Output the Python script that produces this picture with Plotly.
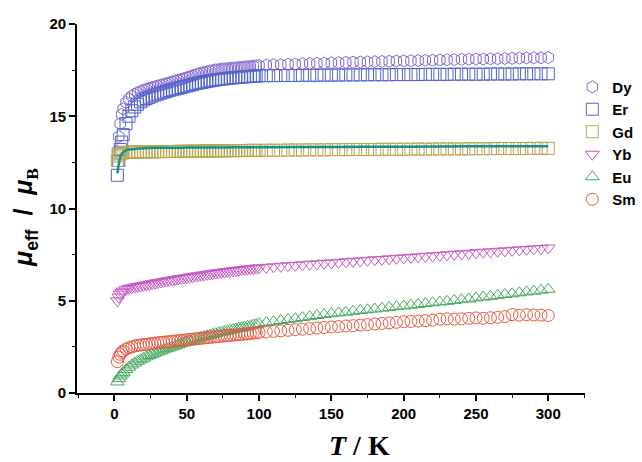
import plotly.graph_objects as go

# Temperature (K)
T = [2, 3, 4, 5, 6,
     8, 10, 12, 14, 16, 18, 20, 22, 24, 26,
     28, 30, 32, 34, 36, 38, 40, 42, 44, 46,
     48, 50, 52, 54, 56, 58, 60, 62, 64, 66,
     68, 70, 72, 74, 76, 78, 80, 82, 84, 86,
     88, 90, 92, 94, 96, 98, 100,
     105, 110, 115, 120, 125, 130, 135, 140, 145, 150,
     155, 160, 165, 170, 175, 180, 185, 190, 195, 200,
     205, 210, 215, 220, 225, 230, 235, 240, 245, 250,
     255, 260, 265, 270, 275, 280, 285, 290, 295, 300]

Dy = [13.1, 13.9, 14.6, 15.1, 15.4,
      15.75, 15.95, 16.1, 16.2, 16.28, 16.35, 16.42, 16.47, 16.52, 16.56,
      16.6, 16.65, 16.69, 16.73, 16.78, 16.82, 16.87, 16.91, 16.96, 17.0,
      17.05, 17.1, 17.15, 17.2, 17.25, 17.3, 17.35, 17.38, 17.42, 17.45,
      17.49, 17.52, 17.54, 17.56, 17.58, 17.59, 17.6, 17.62, 17.63, 17.65,
      17.66, 17.68, 17.7, 17.71, 17.72, 17.74, 17.75,
      17.77, 17.79, 17.8, 17.82, 17.83, 17.85, 17.86, 17.87, 17.88, 17.9,
      17.91, 17.92, 17.93, 17.94, 17.95, 17.96, 17.97, 17.98, 17.99, 18.0,
      18.01, 18.02, 18.03, 18.04, 18.05, 18.06, 18.07, 18.08, 18.09, 18.1,
      18.1, 18.11, 18.12, 18.13, 18.14, 18.15, 18.16, 18.17, 18.17, 18.18]

Er = [11.8, 12.6, 13.2, 13.6, 14.0,
      14.6, 15.0, 15.3, 15.5, 15.65, 15.78, 15.88, 15.96, 16.03, 16.09,
      16.15, 16.2, 16.25, 16.3, 16.35, 16.4, 16.44, 16.48, 16.52, 16.56,
      16.6, 16.64, 16.68, 16.72, 16.76, 16.8, 16.83, 16.86, 16.89, 16.92,
      16.95, 16.97, 16.99, 17.01, 17.03, 17.05, 17.07, 17.08, 17.1, 17.11,
      17.12, 17.14, 17.15, 17.16, 17.17, 17.18, 17.19,
      17.2, 17.2, 17.21, 17.21, 17.21, 17.22, 17.22, 17.22, 17.23, 17.23,
      17.23, 17.24, 17.24, 17.24, 17.25, 17.25, 17.25, 17.25, 17.26, 17.26,
      17.26, 17.26, 17.27, 17.27, 17.27, 17.27, 17.28, 17.28, 17.28, 17.28,
      17.28, 17.29, 17.29, 17.29, 17.29, 17.3, 17.3, 17.3, 17.3, 17.3]

Gd = [12.6, 12.85, 12.95, 13.0, 13.02,
      13.04, 13.05, 13.05, 13.06, 13.06, 13.06, 13.07, 13.07, 13.07, 13.07,
      13.08, 13.08, 13.08, 13.08, 13.09, 13.09, 13.09, 13.09, 13.1, 13.1,
      13.1, 13.1, 13.1, 13.11, 13.11, 13.11, 13.11, 13.12, 13.12, 13.12,
      13.12, 13.12, 13.13, 13.13, 13.13, 13.13, 13.13, 13.14, 13.14, 13.14,
      13.14, 13.14, 13.15, 13.15, 13.15, 13.15, 13.15,
      13.16, 13.16, 13.16, 13.17, 13.17, 13.17, 13.18, 13.18, 13.18, 13.19,
      13.19, 13.19, 13.2, 13.2, 13.2, 13.2, 13.21, 13.21, 13.21, 13.21,
      13.22, 13.22, 13.22, 13.22, 13.23, 13.23, 13.23, 13.23, 13.24, 13.24,
      13.24, 13.24, 13.25, 13.25, 13.25, 13.25, 13.25, 13.26, 13.26, 13.26]

Yb = [5.0, 5.2, 5.35, 5.45, 5.52,
      5.6, 5.66, 5.7, 5.74, 5.77, 5.8, 5.83, 5.86, 5.89, 5.92,
      5.95, 5.98, 6.01, 6.04, 6.07, 6.1, 6.12, 6.15, 6.18, 6.2,
      6.23, 6.25, 6.28, 6.3, 6.33, 6.35, 6.38, 6.4, 6.43, 6.45,
      6.48, 6.5, 6.52, 6.54, 6.56, 6.58, 6.6, 6.62, 6.64, 6.66,
      6.68, 6.7, 6.72, 6.73, 6.75, 6.77, 6.78,
      6.81, 6.84, 6.87, 6.9, 6.92, 6.95, 6.98, 7.0, 7.03, 7.05,
      7.08, 7.11, 7.14, 7.16, 7.19, 7.22, 7.24, 7.27, 7.3, 7.32,
      7.35, 7.38, 7.41, 7.43, 7.46, 7.49, 7.52, 7.54, 7.57, 7.6,
      7.63, 7.65, 7.68, 7.7, 7.73, 7.76, 7.78, 7.81, 7.83, 7.86]

Eu = [0.6, 0.78, 0.92, 1.03, 1.12,
      1.27, 1.4, 1.52, 1.62, 1.72, 1.8, 1.88, 1.96, 2.03, 2.1,
      2.16, 2.22, 2.28, 2.34, 2.4, 2.45, 2.5, 2.56, 2.61, 2.67,
      2.72, 2.77, 2.82, 2.87, 2.92, 2.97, 3.02, 3.06, 3.1, 3.14,
      3.18, 3.22, 3.26, 3.3, 3.33, 3.37, 3.4, 3.44, 3.47, 3.51,
      3.54, 3.57, 3.61, 3.64, 3.68, 3.71, 3.75,
      3.82, 3.87, 3.93, 3.98, 4.03, 4.09, 4.14, 4.2, 4.25, 4.3,
      4.34, 4.38, 4.43, 4.47, 4.51, 4.55, 4.6, 4.64, 4.68, 4.72,
      4.76, 4.8, 4.85, 4.89, 4.93, 4.97, 5.02, 5.06, 5.1, 5.15,
      5.2, 5.24, 5.29, 5.34, 5.38, 5.43, 5.48, 5.52, 5.57, 5.62]

Sm = [1.7, 1.95, 2.1, 2.2, 2.28,
      2.38, 2.45, 2.5, 2.55, 2.58, 2.6, 2.62, 2.64, 2.66, 2.68,
      2.7, 2.72, 2.74, 2.75, 2.77, 2.78, 2.8, 2.82, 2.83, 2.85,
      2.86, 2.88, 2.9, 2.92, 2.93, 2.95, 2.97, 2.98, 3.0, 3.02,
      3.03, 3.05, 3.06, 3.08, 3.09, 3.11, 3.12, 3.14, 3.15, 3.17,
      3.18, 3.2, 3.21, 3.23, 3.25, 3.26, 3.28,
      3.31, 3.34, 3.37, 3.4, 3.43, 3.46, 3.49, 3.52, 3.55, 3.58,
      3.6, 3.63, 3.65, 3.68, 3.71, 3.74, 3.77, 3.8, 3.83, 3.86,
      3.88, 3.9, 3.92, 3.95, 4.0, 4.02, 4.0, 4.02, 4.05, 4.07,
      4.05, 4.08, 4.1, 4.14, 4.25, 4.22, 4.24, 4.23, 4.22, 4.2]

# Fitted curve (teal line)
fit_T = [2, 3, 4, 5, 6, 8, 10, 15, 20, 30, 50, 75, 100, 150, 200, 250, 300]
fit_v = [11.9, 12.4, 12.75, 12.95, 13.05, 13.15, 13.2, 13.24, 13.27, 13.29,
         13.3, 13.31, 13.32, 13.34, 13.35, 13.37, 13.38]

series = [
    ("Dy", Dy, "hexagon-open", "#8466d2"),
    ("Er", Er, "square-open", "#5262cc"),
    ("Gd", Gd, "square-open", "#b3a64e"),
    ("Yb", Yb, "triangle-down-open", "#c656c4"),
    ("Eu", Eu, "triangle-up-open", "#46a862"),
    ("Sm", Sm, "circle-open", "#e45a42"),
]

fig = go.Figure()
for name, vals, sym, col in series:
    fig.add_trace(go.Scatter(
        x=T, y=vals, mode="markers", name="<b>%s</b>" % name,
        marker=dict(symbol=sym, size=12, color=col, line=dict(width=1, color=col)),
    ))
fig.add_trace(go.Scatter(x=fit_T, y=fit_v, mode="lines", showlegend=False,
                         line=dict(color="#1a8f8a", width=2.5, shape="spline")))

tickfont = dict(family="Liberation Sans, Arial", size=15, color="black")
fig.update_layout(
    width=642, height=462,
    margin=dict(l=77, r=57, t=24, b=69, autoexpand=False),
    paper_bgcolor="white", plot_bgcolor="white",
    showlegend=True,
    legend=dict(x=0.975, y=0.874, xanchor="left", yanchor="top",
                font=dict(family="Liberation Sans, Arial", size=15, color="black"),
                bgcolor="rgba(0,0,0,0)", borderwidth=0),
    xaxis=dict(range=[-25.9, 325.4], tickvals=[0, 50, 100, 150, 200, 250, 300],
               ticktext=["<b>%d</b>" % v for v in [0, 50, 100, 150, 200, 250, 300]],
               showline=True, linecolor="black", linewidth=1.8,
               ticks="outside", ticklen=6, tickwidth=1.5, tickcolor="black",
               minor=dict(dtick=25, tick0=0, ticks="outside", ticklen=3.5, tickwidth=1.2, tickcolor="black"),
               showgrid=False, zeroline=False, tickfont=tickfont),
    yaxis=dict(range=[0, 20], tickvals=[0, 5, 10, 15, 20],
               ticktext=["<b>%d</b>" % v for v in [0, 5, 10, 15, 20]],
               showline=True, linecolor="black", linewidth=1.8,
               ticks="outside", ticklen=6, tickwidth=1.5, tickcolor="black",
               minor=dict(dtick=2.5, tick0=0, ticks="outside", ticklen=3.5, tickwidth=1.2, tickcolor="black"),
               showgrid=False, zeroline=False, tickfont=tickfont),
)

fig.add_annotation(
    xref="paper", yref="paper", x=0.557, y=-0.1436, xanchor="center", yanchor="middle",
    text="<b><i>T</i> / K</b>", showarrow=False,
    font=dict(family="Liberation Serif, Times New Roman", size=28, color="black"))
fig.add_annotation(
    xref="paper", yref="paper", x=-0.102, y=0.475, xanchor="center", yanchor="middle",
    textangle=-90, showarrow=False,
    text="<b><i>μ</i><sub>eff</sub>  /  <i>μ</i><sub><span style='font-family:Liberation Serif'>B</span></sub></b>",
    font=dict(family="Liberation Sans, Arial", size=25, color="black"))

fig.write_html("out.html")
